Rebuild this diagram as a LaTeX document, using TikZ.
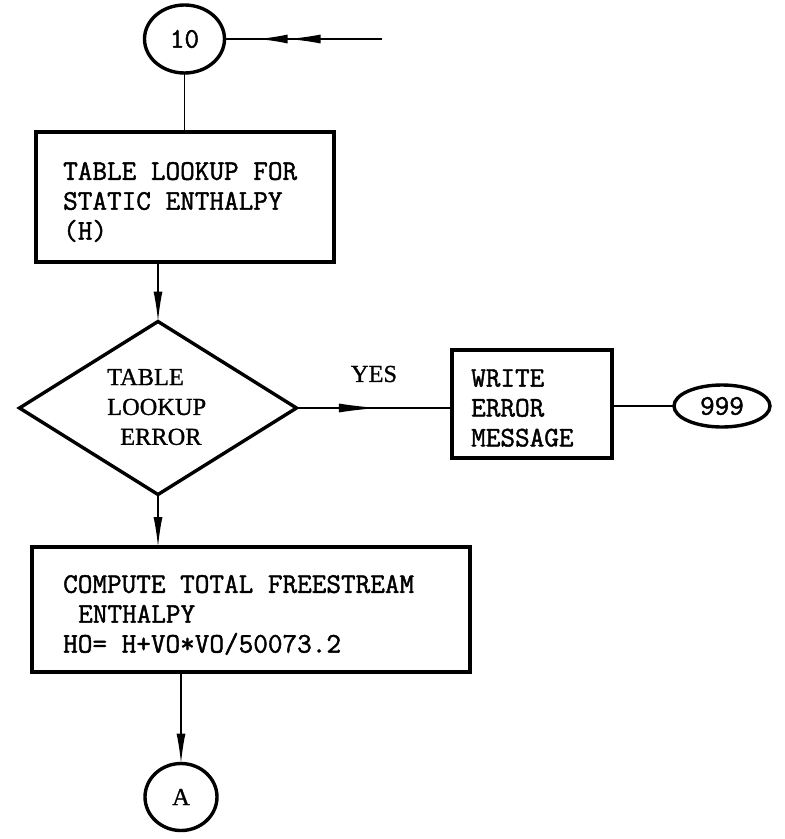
\documentclass[tikz,border=0pt]{standalone}
\usepackage{fontspec}
\setmainfont{Liberation Serif}
\newfontfamily\twfont[FakeBold=1.5]{Latin Modern Mono}
\newfontfamily\rmbfont[FakeBold=1]{Liberation Serif}
\usetikzlibrary{shapes.geometric,arrows.meta,decorations.markings,calc}
\begin{document}
\begin{tikzpicture}[x=1bp,y=-1bp,
  boxst/.style={draw, line width=3.4bp, inner sep=0pt, outer sep=0pt},
  termst/.style={ellipse, draw, line width=3.4bp, inner sep=0pt, outer sep=0pt},
  conn/.style={line width=1.5bp},
  arr/.style={-{Latex[length=30bp,width=9bp]}},
  mono/.style={font=\twfont\fontsize{28.5}{30}\selectfont, align=left, inner sep=0pt},
  rmtext/.style={font=\rmbfont\fontsize{24.5}{30}\selectfont, align=left, inner sep=0pt},
  ]
\useasboundingbox (0,0) rectangle (785,839);

% nodes
\node[termst, minimum width=80bp, minimum height=68bp, mono] (c10) at (184.5,39) {10};
\node[boxst, minimum width=298bp, minimum height=130bp] (b1) at (185,197) {};
\node[mono, anchor=west] (t1) at (63,202) {TABLE LOOKUP FOR\\STATIC ENTHALPY\\(H)};

\node[diamond, draw, line width=3.4bp, minimum width=277bp, minimum height=173bp, inner sep=0pt, outer sep=0pt] (d) at (158,408) {};
\node[rmtext, anchor=west] (dt) at (107,407) {TABLE\\LOOKUP\\\hspace*{13bp}ERROR};

\node[rmtext] (yes) at (374,374) {YES};

\node[boxst, minimum width=160bp, minimum height=108bp] (w) at (532,404) {};
\node[mono, anchor=west] (wt) at (471,408) {WRITE\\ERROR\\MESSAGE};

\node[termst, minimum width=96bp, minimum height=42bp, mono] (e999) at (722,406) {999};

\node[boxst, minimum width=438bp, minimum height=125bp] (b2) at (251,609.5) {};
\node[mono, anchor=west] (t2) at (63,615) {COMPUTE TOTAL FREESTREAM\\\hspace*{15bp}ENTHALPY\\HO= H+VO*VO/50073.2};

\node[termst, minimum width=72bp, minimum height=67bp, rmtext] (cA) at (181,797) {A};

% connectors
\coordinate (in10) at (382,39);
\draw[conn, postaction={decorate}, decoration={markings,
    mark=at position 0.60 with {\arrow{Latex[length=33bp,width=9bp]}},
    mark=at position 0.79 with {\arrow{Latex[length=30bp,width=9bp]}}}]
  (in10) -- (c10.east);
\draw[conn] (c10.south) -- (c10.south |- b1.north);
\draw[conn, arr] (d.north |- b1.south) -- (d.north);
\draw[conn, postaction={decorate}, decoration={markings,
    mark=at position 0.53 with {\arrow{Latex[length=40bp,width=9bp]}}}]
  (d.east) -- (d.east -| w.west);
\draw[conn] (e999.west -| w.east) -- (e999.west);
\draw[conn, arr] (d.south) -- (d.south |- b2.north);
\draw[conn, arr] (cA.north |- b2.south) -- (cA.north);
\end{tikzpicture}
\end{document}
